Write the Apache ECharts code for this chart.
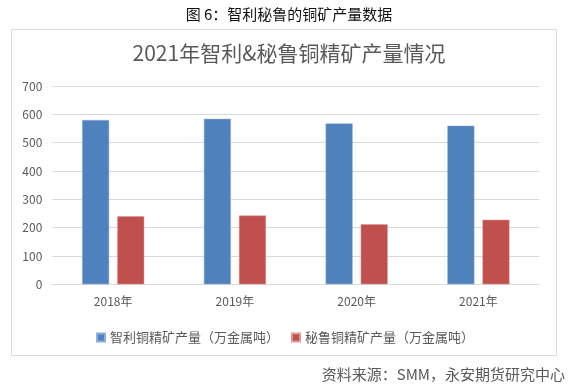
<!DOCTYPE html>
<html>
<head>
<meta charset="utf-8">
<script src="https://cdn.jsdelivr.net/npm/echarts@6/dist/echarts.min.js"></script>
<style>
html,body{margin:0;padding:0;background:#fff;}
#c{width:572px;height:390px;}
</style>
</head>
<body>
<div id="c"></div>
<script>
const categories = ['2018年', '2019年', '2020年', '2021年'];
const chileValues = [580, 584, 568, 560];
const peruValues = [240, 243, 212, 228];
const seriesNames = ['智利铜精矿产量（万金属吨）', '秘鲁铜精矿产量（万金属吨）'];
const yTicks = { min: 0, max: 700, interval: 100 };

const FONT = '"Noto Sans CJK SC", "Noto Sans", sans-serif';
const chart = echarts.init(document.getElementById('c'), null, { renderer: 'canvas' });
chart.setOption({
  backgroundColor: '#ffffff',
  animation: false,
  textStyle: { fontFamily: FONT },
  title: [
    {
      text: '图 6：智利秘鲁的铜矿产量数据',
      left: 284, top: 2, textAlign: 'center',
      textStyle: { fontSize: 15, fontWeight: 'normal', color: '#111111', fontFamily: FONT }
    },
    {
      text: '2021年智利&秘鲁铜精矿产量情况',
      left: 284, top: 38, textAlign: 'center',
      textStyle: { fontSize: 21, fontWeight: 'normal', color: '#595959', fontFamily: FONT }
    }
  ],
  graphic: [
    {
      type: 'rect', silent: true, z: -1,
      shape: { x: 11.5, y: 29.5, width: 545, height: 326 },
      style: { fill: 'none', stroke: '#d9d9d9', lineWidth: 1 }
    },
    {
      type: 'text', silent: true,
      style: {
        text: '资料来源：SMM，永安期货研究中心',
        x: 565, y: 374, align: 'right', verticalAlign: 'middle',
        font: '15px ' + FONT, fill: '#595959'
      }
    }
  ],
  legend: {
    data: seriesNames,
    left: 91, top: 326,
    icon: 'rect', itemWidth: 8, itemHeight: 8, itemGap: 12,
    textStyle: { fontSize: 13, color: '#595959', fontFamily: FONT }
  },
  grid: { left: 52.3, right: 32.7, top: 86, bottom: 105.7, containLabel: false },
  xAxis: {
    type: 'category',
    data: categories,
    axisLine: { lineStyle: { color: '#d9d9d9' } },
    axisTick: { show: false },
    axisLabel: { fontSize: 12, color: '#595959', margin: 11, fontFamily: FONT }
  },
  yAxis: {
    type: 'value',
    min: yTicks.min, max: yTicks.max, interval: yTicks.interval,
    axisLine: { show: false },
    axisTick: { show: false },
    splitLine: { lineStyle: { color: '#d9d9d9' } },
    axisLabel: { fontSize: 12, color: '#595959', margin: 10, fontFamily: FONT }
  },
  series: [
    {
      name: seriesNames[0], type: 'bar', data: chileValues,
      barWidth: 27, barGap: '30%',
      itemStyle: { color: '#4f81bd', borderColor: '#8eaedb', borderWidth: 0.5 }
    },
    {
      name: seriesNames[1], type: 'bar', data: peruValues,
      barWidth: 27, barGap: '30%',
      itemStyle: { color: '#c0504d', borderColor: '#dc9896', borderWidth: 0.5 }
    }
  ]
});
</script>
</body>
</html>
